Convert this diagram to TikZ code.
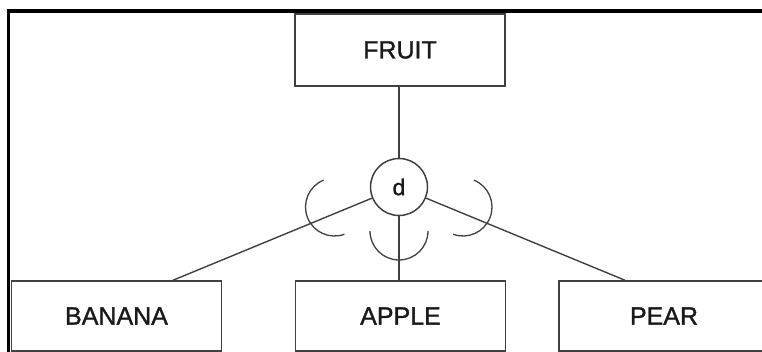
\documentclass[tikz,border=0pt]{standalone}
\usepackage{fontspec}
\setmainfont[FakeBold=1.2]{Liberation Sans}
\usetikzlibrary{calc}
\definecolor{edgegray}{RGB}{64,64,64}
\definecolor{inkblack}{RGB}{25,25,25}
\begin{document}
\begin{tikzpicture}[x=1pt,y=-1pt,
  entity/.style={draw=edgegray, line width=1.5pt, minimum width=210pt,
    inner sep=0pt, text=inkblack, font=\fontsize{25}{30}\selectfont},
  disjoint/.style={circle, draw=edgegray, line width=1.5pt, minimum size=57pt,
    inner sep=0pt, text=inkblack, font=\fontsize{23}{28}\selectfont},
  link/.style={draw=edgegray, line width=1.4pt},
  subset/.style={draw=edgegray, line width=1.3pt}]
\useasboundingbox (0,0) rectangle (762,352);
\clip (0,0) rectangle (762,352);

% superclass and subclasses
\node[entity, minimum height=72pt] (fruit) at (400,50) {FRUIT};
\node[entity, minimum height=70pt] (banana) at (116.5,316) {BANANA};
\node[entity, minimum height=70pt] (apple) at (400.5,316) {APPLE};
\node[entity, minimum height=70pt] (pear) at (664,316) {PEAR};

% disjointness circle
\node[disjoint] (d) at (399,187) {d};

% connectors
\draw[link] (fruit.south -| d) -- (d);
\draw[link] (d) -- (apple.north -| d);
\draw[link] (d) -- ([xshift=56.5pt]banana.north);
\draw[link] (d) -- ([xshift=-39pt]pear.north);

% subset arcs on the subclass lines
\draw[subset] ($(d)+(-64.5,20)$) ++(-112:29) arc[start angle=-112, end angle=-290, radius=29];
\draw[subset] ($(d)+(64,20)$) ++(-68:29) arc[start angle=-68, end angle=110, radius=29];
\draw[subset] ($(d)+(0,44)$) ++(-180:29) arc[start angle=-180, end angle=-360, radius=29];

% outer frame
\draw[black, line width=3.8pt] (8.5,400) -- (8.5,11) -- (800,11);
\end{tikzpicture}
\end{document}
